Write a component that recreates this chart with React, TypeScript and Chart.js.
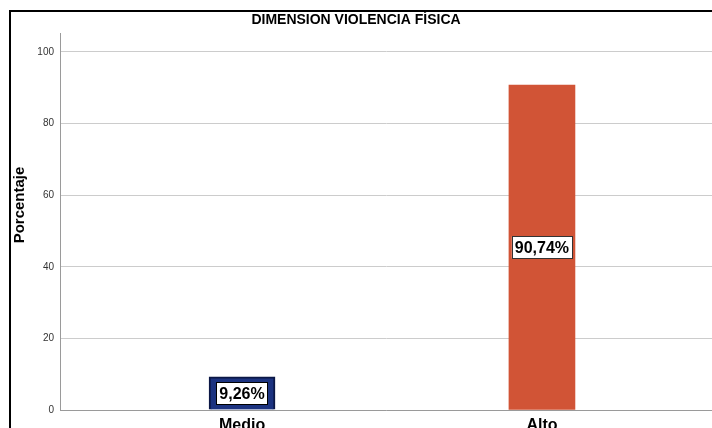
import React, { useEffect, useRef } from "react";
import { Chart, registerables } from "chart.js";

Chart.register(...registerables);

const TITLE = "DIMENSION VIOLENCIA FÍSICA";
const Y_TITLE = "Porcentaje";
const categories = ["Medio", "Alto"];
const percentages = [9.26, 90.74];
const barColors = ["#1c3380", "#d15436"];
const barBorders = ["#0b1745", "#d15436"];
const barBorderWidths = [2, 0];
const labelBorders = ["#000000", "#333333"];
const yTicks = [0, 20, 40, 60, 80, 100];

const SANS = "'Liberation Sans', Arial, sans-serif";
const NARROW = "'Liberation Sans Narrow', 'Liberation Sans', Arial, sans-serif";

const framePlugin = {
  id: "frame",
  beforeDraw(chart: any) {
    const ctx = chart.ctx;
    ctx.save();
    ctx.fillStyle = "#ffffff";
    ctx.fillRect(0, 0, chart.width, chart.height);
    ctx.strokeStyle = "#000000";
    ctx.lineWidth = 2;
    ctx.strokeRect(10, 11, chart.width + 50, chart.height + 50);
    ctx.restore();
  },
  afterDraw(chart: any) {
    const ctx = chart.ctx;
    ctx.save();
    ctx.translate(20, 205);
    ctx.rotate(-Math.PI / 2);
    ctx.font = `bold 15px ${SANS}`;
    ctx.fillStyle = "#000000";
    ctx.textAlign = "center";
    ctx.textBaseline = "middle";
    ctx.fillText(Y_TITLE, 0, 0);
    ctx.restore();
  },
};

const labelPlugin = {
  id: "barLabels",
  afterDatasetsDraw(chart: any) {
    const ctx = chart.ctx;
    const meta = chart.getDatasetMeta(0);
    ctx.save();
    ctx.font = `bold 16px ${SANS}`;
    ctx.textAlign = "center";
    ctx.textBaseline = "middle";
    meta.data.forEach((bar: any, i: number) => {
      const text = percentages[i].toFixed(2).replace(".", ",") + "%";
      const cx = bar.x;
      const cy = (bar.y + bar.base) / 2;
      const w = ctx.measureText(text).width + 6;
      const h = 22;
      ctx.fillStyle = "#ffffff";
      ctx.fillRect(cx - w / 2, cy - h / 2, w, h);
      ctx.strokeStyle = labelBorders[i];
      ctx.lineWidth = 1;
      ctx.strokeRect(Math.round(cx - w / 2) + 0.5, Math.round(cy - h / 2) + 0.5, Math.round(w), h);
      ctx.fillStyle = "#000000";
      ctx.fillText(text, cx, cy + 1);
    });
    ctx.restore();
  },
};

export default function App() {
  const ref = useRef<HTMLCanvasElement | null>(null);

  useEffect(() => {
    if (!ref.current) return;
    const chart = new Chart(ref.current, {
      type: "bar",
      data: {
        datasets: [
          {
            data: categories.map((_, i) => ({ x: i, y: percentages[i] })),
            backgroundColor: barColors,
            borderColor: barBorders,
            borderWidth: barBorderWidths,
            barThickness: 66,
          },
        ],
      },
      options: {
        animation: false,
        responsive: false,
        maintainAspectRatio: false,
        layout: { padding: 0 },
        plugins: {
          legend: { display: false },
          tooltip: { enabled: false },
          title: {
            display: true,
            text: TITLE,
            color: "#000000",
            font: { family: SANS, size: 14, weight: "bold" },
            padding: { top: 12, bottom: 4.2 },
          },
        },
        scales: {
          x: {
            type: "linear",
            offset: false,
            min: -0.607,
            max: 1.567,
            afterBuildTicks: (scale: any) => {
              scale.ticks = categories.map((_, i) => ({ value: i }));
            },
            afterFit: (scale: any) => {
              scale.height = 18;
            },
            grid: { display: true, offset: false, drawOnChartArea: false, drawTicks: false },
            border: { display: true, color: "#9a9a9a", width: 1 },
            ticks: {
              autoSkip: false,
              maxRotation: 0,
              padding: 6,
              color: "#000000",
              font: { family: SANS, size: 16, weight: "bold" },
              callback: (v: any) => categories[v] ?? "",
            },
          },
          y: {
            min: 0,
            max: 105.3,
            afterBuildTicks: (scale: any) => {
              scale.ticks = yTicks.map((v) => ({ value: v }));
            },
            afterFit: (scale: any) => {
              scale.width = 60;
            },
            grid: { color: "#cccccc", lineWidth: 1, drawTicks: false },
            border: { display: true, color: "#9a9a9a", width: 1 },
            ticks: {
              padding: 6,
              color: "#333333",
              font: { family: NARROW, size: 10 },
            },
          },
        },
      },
      plugins: [framePlugin, labelPlugin],
    } as any);
    return () => chart.destroy();
  }, []);

  return (
    <div style={{ position: "absolute", left: 0, top: 0, width: 712, height: 428 }}>
      <canvas ref={ref} width={712} height={428} />
    </div>
  );
}
